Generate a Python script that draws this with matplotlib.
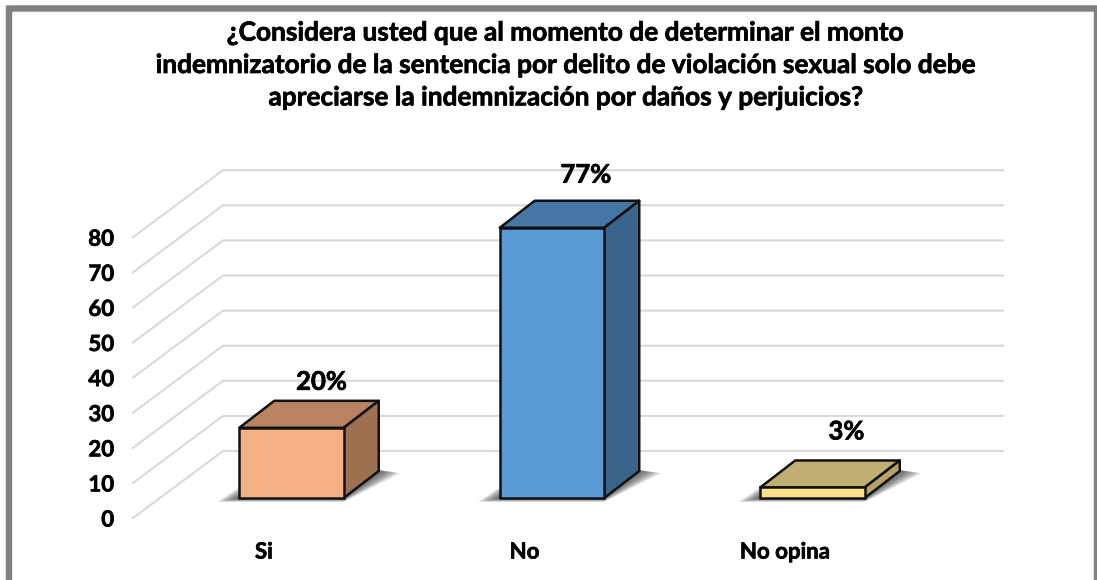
import matplotlib

matplotlib.use("Agg")
import matplotlib.patheffects as pe
import matplotlib.pyplot as plt
from matplotlib.patches import FancyBboxPatch, Polygon, Rectangle

TITLE = (
    "¿Considera usted que al momento de determinar el monto\n"
    "indemnizatorio de la sentencia por delito de violación sexual solo debe\n"
    "apreciarse la indemnización por daños y perjuicios?"
)
categories = ["Si", "No", "No opina"]
values = [20, 77, 3]
value_labels = ["20%", "77%", "3%"]
y_ticks = [0, 10, 20, 30, 40, 50, 60, 70, 80]

FRONT_COLORS = ["#f4b183", "#5b9bd5", "#ffe08a"]
TOP_COLORS = ["#b98260", "#4477a5", "#c0ae72"]
SIDE_COLORS = ["#9c7050", "#3a6489", "#b5a268"]
GRID = "#d9d9d9"

# label placement relative to the bar's top back corner, pixels
LABEL_DX = [30, 34, 34]
LABEL_GAP = [19, 26, 29]

W, H = 1097, 580
PX_X = 260.5  # pixels per category
PX_Y = 3.51  # pixels per value unit
X0_PX, Y0_PX = 291.5, 498.0  # first bar centre, bar base

BAR_W = 104.5 / PX_X
BAR_DX, BAR_DY = 35 / PX_X, 27 / PX_Y
FLOOR_FRONT = -20 / PX_Y  # value level of the front floor edge
FLOOR_BACK = 47 / PX_Y
WALL_LEFT = (223 - X0_PX) / PX_X
WALL_RIGHT = (1003 - X0_PX) / PX_X
FRONT_LEFT = (133 - X0_PX) / PX_X

plt.rcParams["font.family"] = ["Lato", "DejaVu Sans"]
HEAVY = [pe.withStroke(linewidth=0.5, foreground="black")]

fig = plt.figure(figsize=(W / 100, H / 100), dpi=100)
ax = fig.add_axes([0, 0, 1, 1])
ax.set_xlim(-X0_PX / PX_X, (W - X0_PX) / PX_X)
ax.set_ylim(-(H - Y0_PX) / PX_Y, Y0_PX / PX_Y)
ax.axis("off")

# outer frame, runs off the bottom of the image
xlim, ylim = ax.get_xlim(), ax.get_ylim()
ax.add_patch(FancyBboxPatch(
    (xlim[0] + 9 / PX_X, ylim[0] - 10), (W - 9) / PX_X, (H - 8.5) / PX_Y + 10,
    boxstyle="round,pad=0,rounding_size=0.005", facecolor="white", edgecolor="#7f7f7f", linewidth=4.6, zorder=1,
))

# wall and side gridlines
for t in y_ticks:
    back = t + FLOOR_BACK
    front = t + FLOOR_FRONT
    ax.plot([FRONT_LEFT, WALL_LEFT, WALL_RIGHT], [front, back, back], color=GRID, linewidth=1.5, zorder=2)
    ax.text(-(X0_PX - 114) / PX_X, front - 2 / PX_Y, str(t), ha="right", va="center",
            fontsize=16, fontweight="bold", color="black", path_effects=HEAVY, zorder=6)

for i, (name, val, lab) in enumerate(zip(categories, values, value_labels)):
    x0, x1 = i - BAR_W / 2, i + BAR_W / 2

    # soft shadow on the floor, stacked so it fades outwards
    for k in (22, 20, 18, 16, 14, 12, 10, 8, 6, 4, 2):
        kx = k / PX_X
        e = 0.18 * k / PX_Y
        ax.add_patch(Polygon(
            [(x0 - kx, -e), (x1, -e), (x1 + BAR_DX + kx, BAR_DY - 0.1 * k / PX_Y),
             (x1 + BAR_DX, BAR_DY + 1 / PX_Y), (x0, 0.5 * k / PX_Y)],
            facecolor="#333333", edgecolor="none", alpha=0.1, zorder=3,
        ))

    ax.add_patch(Polygon(
        [(x0, val), (x1, val), (x1 + BAR_DX, val + BAR_DY), (x0 + BAR_DX, val + BAR_DY)],
        facecolor=TOP_COLORS[i], edgecolor="#111111", linewidth=1.8, joinstyle="round", zorder=4,
    ))
    ax.add_patch(Polygon(
        [(x1, 0), (x1 + BAR_DX, BAR_DY), (x1 + BAR_DX, val + BAR_DY), (x1, val)],
        facecolor=SIDE_COLORS[i], edgecolor="#111111", linewidth=1.8, joinstyle="round", zorder=4,
    ))
    ax.add_patch(Rectangle(
        (x0, 0), BAR_W, val, facecolor=FRONT_COLORS[i], edgecolor="#111111", linewidth=1.8, zorder=5,
    ))

    ax.text(i + LABEL_DX[i] / PX_X, val + BAR_DY + LABEL_GAP[i] / PX_Y, lab, ha="center", va="center",
            fontsize=18.5, fontweight="bold", color="black", path_effects=HEAVY, zorder=6)
    ax.text(i - 27.5 / PX_X, -54 / PX_Y, name, ha="center", va="center",
            fontsize=16, fontweight="bold", color="black", path_effects=HEAVY, zorder=6)

ax.text((566 - X0_PX) / PX_X, (Y0_PX - 65) / PX_Y, TITLE, ha="center", va="center", linespacing=1.42,
        fontsize=18.9, fontweight="bold", color="black", path_effects=HEAVY, zorder=6)

fig.savefig("out.png", dpi=100)
plt.close(fig)
